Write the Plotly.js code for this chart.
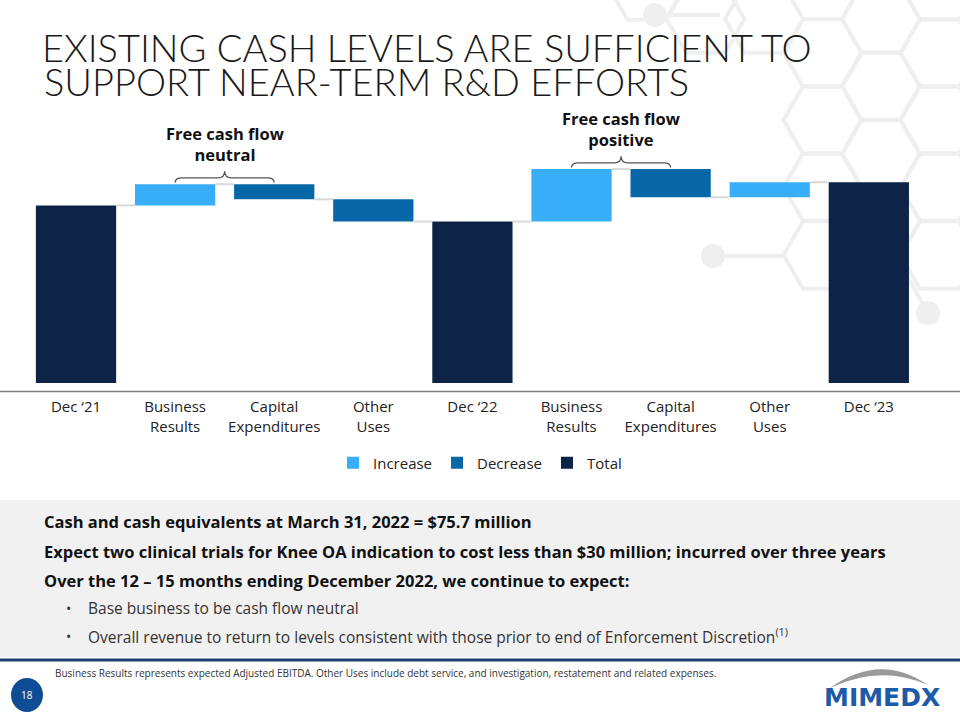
<!DOCTYPE html>
<html><head><meta charset="utf-8">
<script src="https://cdn.plot.ly/plotly-3.0.1.min.js"></script>
<style>html,body{margin:0;padding:0;background:#fff}#chart{width:960px;height:720px}</style>
</head><body><div id="chart"></div>
<script>
// ---- data (values in $ millions) ----
const categories = ["Dec \u201821","Business<br>Results","Capital<br>Expenditures","Other<br>Uses","Dec \u201822","Business<br>Results","Capital<br>Expenditures","Other<br>Uses","Dec \u201823"];
const measures = ["absolute","relative","relative","relative","total","relative","relative","relative","total"];
const changes = [88, 10.5, -7.5, -11, 0, 26, -14, 7.5, 0];
const seriesNames = ["Increase","Decrease","Total"];
const seriesColors = ["#38aef8","#0767a7","#0e2447"];
const braceFrom = [1, 5];
const braceTo = [2, 6];
const braceLabels = ["Free cash flow<br>neutral","Free cash flow<br>positive"];
const titleLines = ["EXISTING CASH LEVELS ARE SUFFICIENT TO","SUPPORT NEAR-TERM R&amp;D EFFORTS"];
const panelBold = ["Cash and cash equivalents at March 31, 2022 = $75.7 million",
  "Expect two clinical trials for Knee OA indication to cost less than $30 million; incurred over three years",
  "Over the 12 \u2013 15 months ending December 2022, we continue to expect:"];
const panelBullets = ["Base business to be cash flow neutral",
  "Overall revenue to return to levels consistent with those prior to end of Enforcement Discretion<sup>(1)</sup>"];
const footnote = "Business Results represents expected Adjusted EBITDA. Other Uses include debt service, and investigation, restatement and related expenses.";
const pageNumber = "18";

// ---- build series ----
const W = 0.81;
const idx = categories.map((_, i) => i);
const series = seriesNames.map(() => ({y: idx.map(() => null), base: idx.map(() => null)}));
const levels = [], tops = [];
let level = 0;
idx.forEach(i => {
  let kind, base, y;
  if (measures[i] === "absolute") { level = changes[i]; kind = 2; base = 0; y = level; }
  else if (measures[i] === "total") { kind = 2; base = 0; y = level; }
  else { base = level; y = changes[i]; level += changes[i]; kind = changes[i] >= 0 ? 0 : 1; }
  series[kind].y[i] = y; series[kind].base[i] = base;
  levels.push(level); tops.push(Math.max(base, base + y));
});

const connX = [], connY = [];
for (let i = 0; i < idx.length - 1; i++) {
  connX.push(i + W / 2, i + 1 - W / 2, null);
  connY.push(levels[i], levels[i], null);
}

const data = [{type: "scatter", mode: "lines", x: connX, y: connY, line: {color: "#d9d9d9", width: 2}, showlegend: false, hoverinfo: "skip"}];
seriesNames.forEach((n, s) => data.push({type: "bar", name: n, x: idx, y: series[s].y, base: series[s].base, width: W,
  marker: {color: seriesColors[s], line: {width: 0}}, hoverinfo: "skip"}));

// ---- helpers for decoration positions (pixels -> paper) ----
const T = 110, B = 396;
const PX = x => x / 960;
const PY = y => (B - y) / (B - T);

const shapes = [];
const annotations = [];
// background honeycomb
const deco = "#efefef";
const hexCenters = [[764,19],[822.5,53],[822.5,120],[822.5,187],[822.5,255],[881,19],[881,86],[881,154],[881,221],[939.5,-14],[939.5,53],[939.5,120],[939.5,187],[939.5,255],[647,-14],[705.5,19]];
hexCenters.forEach(([cx, cy]) => {
  const s = 39, h = s * 0.866;
  const pts = [[cx - s, cy], [cx - s / 2, cy - h], [cx + s / 2, cy - h], [cx + s, cy], [cx + s / 2, cy + h], [cx - s / 2, cy + h]];
  shapes.push({type: "path", xref: "paper", yref: "paper", layer: "below", line: {color: deco, width: 4},
    path: "M" + pts.map(p => PX(p[0]) + "," + PY(p[1])).join("L") + "Z"});
});
[[655,15,720,15],[713,256,782,256],[928,313,905,272]].forEach(([x, y, x2, y2]) => {
  shapes.push({type: "line", xref: "paper", yref: "paper", layer: "below", x0: PX(x), y0: PY(y), x1: PX(x2), y1: PY(y2), line: {color: deco, width: 4}});
  shapes.push({type: "circle", xref: "paper", yref: "paper", layer: "below", x0: PX(x - 12), x1: PX(x + 12), y0: PY(y - 12), y1: PY(y + 12), fillcolor: deco, line: {width: 0}});
});
// axis line
shapes.push({type: "line", xref: "paper", yref: "paper", x0: 0, x1: 1, y0: PY(391.5), y1: PY(391.5), line: {color: "#7f7f7f", width: 1.5}});
// braces (above the bracketed bars)
braceFrom.forEach((f, j) => {
  const t = braceTo[j];
  const top = Math.max(...tops.slice(f, t + 1));
  const y0 = top + 0.8, yh = y0 + 2.3, yt = yh + 3.3;
  const m = (f + t) / 2, r = 0.07;
  shapes.push({type: "path", xref: "x", yref: "y", line: {color: "#555", width: 1.3},
    path: `M${f},${y0} Q${f},${yh} ${f + r},${yh} L${m - r},${yh} Q${m},${yh} ${m},${yt} Q${m},${yh} ${m + r},${yh} L${t - r},${yh} Q${t},${yh} ${t},${y0}`});
  annotations.push({xref: "x", yref: "y", x: m, y: yt, yanchor: "bottom", yshift: 3, showarrow: false, text: braceLabels[j],
    font: {family: "Open Sans", size: 16.5, color: "#111", weight: 700}, align: "center"});
});
// bottom panel
shapes.push({type: "rect", xref: "paper", yref: "paper", layer: "below", x0: 0, x1: 1, y0: PY(500), y1: PY(657), fillcolor: "#f1f1f1", line: {width: 0}});
shapes.push({type: "line", xref: "paper", yref: "paper", x0: 0, x1: 1, y0: PY(660), y1: PY(660), line: {color: "#1d3e70", width: 3}});
shapes.push({type: "circle", xref: "paper", yref: "paper", x0: PX(11), x1: PX(43), y0: PY(678), y1: PY(712), fillcolor: "#0f4c96", line: {width: 0}});
shapes.push({type: "path", xref: "paper", yref: "paper", fillcolor: "#9a9a9a", line: {width: 0},
  path: `M${PX(830)},${PY(688)} Q${PX(880)},${PY(652)} ${PX(928)},${PY(685)} Q${PX(880)},${PY(664)} ${PX(830)},${PY(688)}Z`});

annotations.push({xref: "paper", yref: "paper", x: PX(42), y: PY(81), xanchor: "left", yanchor: "middle", showarrow: false,
  text: titleLines[1], font: {family: "Lato", size: 38, color: "#1a1a1a", weight: 300}});
const boldY = [521, 551, 580];
panelBold.forEach((t, i) => annotations.push({xref: "paper", yref: "paper", x: PX(42), y: PY(boldY[i]), xanchor: "left", yanchor: "middle",
  showarrow: false, text: t, font: {family: "Open Sans", size: 16.5, color: "#111", weight: 700}}));
const bulY = [608, 636];
panelBullets.forEach((t, i) => {
  annotations.push({xref: "paper", yref: "paper", x: PX(64), y: PY(bulY[i]), xanchor: "left", yanchor: "middle", showarrow: false,
    text: "\u2022", font: {family: "Open Sans", size: 14, color: "#333"}});
  annotations.push({xref: "paper", yref: "paper", x: PX(86), y: PY(bulY[i]), xanchor: "left", yanchor: "middle", showarrow: false,
    text: t, font: {family: "Open Sans", size: 15.5, color: "#333"}});
});
annotations.push({xref: "paper", yref: "paper", x: PX(53), y: PY(673), xanchor: "left", yanchor: "middle", showarrow: false,
  text: footnote, font: {family: "Open Sans", size: 10, color: "#333"}});
annotations.push({xref: "paper", yref: "paper", x: PX(27), y: PY(695), xanchor: "center", yanchor: "middle", showarrow: false,
  text: pageNumber, font: {family: "Open Sans", size: 10, color: "#fff"}});
annotations.push({xref: "paper", yref: "paper", x: PX(882), y: PY(697), xanchor: "center", yanchor: "middle", showarrow: false,
  text: "MIMEDX", font: {family: "DejaVu Sans", size: 25, color: "#1d5aa8", weight: 700}});

const layout = {
  width: 960, height: 720,
  margin: {l: 0, r: 0, t: T, b: 720 - B, pad: 0},
  paper_bgcolor: "#fff", plot_bgcolor: "rgba(0,0,0,0)",
  font: {family: "Open Sans", color: "#222"},
  title: {text: titleLines[0], xref: "paper", x: PX(42), xanchor: "left", yref: "container", y: 1 - 48.5 / 720, yanchor: "middle",
    font: {family: "Lato", size: 38, color: "#1a1a1a", weight: 300}},
  barmode: "overlay",
  hovermode: false,
  showlegend: true,
  legend: {orientation: "h", x: 0.5, xanchor: "center", y: PY(463), yanchor: "middle", font: {size: 15, color: "#222"}, bgcolor: "rgba(0,0,0,0)", traceorder: "normal"},
  xaxis: {range: [-0.767, 8.92], tickvals: idx, ticktext: categories, showgrid: false, zeroline: false, showline: false, ticks: "",
    tickfont: {size: 15, color: "#222"}, fixedrange: true},
  yaxis: {range: [-6.44, 135.27], visible: false, fixedrange: true},
  shapes: shapes,
  annotations: annotations
};
Plotly.newPlot("chart", data, layout, {displayModeBar: false, staticPlot: true});
</script>
</body></html>
